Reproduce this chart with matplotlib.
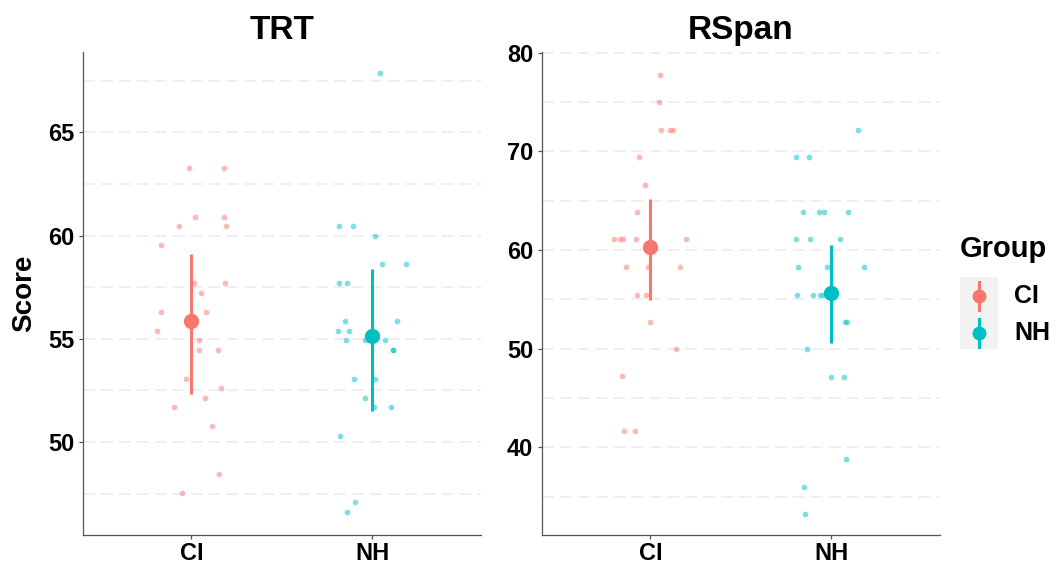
import numpy as np
import matplotlib
matplotlib.use("Agg")
import matplotlib.pyplot as plt
from matplotlib.patches import Rectangle
from matplotlib.lines import Line2D

plt.rcParams['font.family'] = ['Liberation Sans', 'DejaVu Sans']
plt.rcParams['font.weight'] = 'bold'
plt.rcParams['lines.scale_dashes'] = False

# groups / colours
groups = ["CI", "NH"]
group_colors = {"CI": "#F8766D", "NH": "#00BFC4"}

# TRT raw scores and their horizontal jitter
trt_ci = [63.25, 63.25, 60.91, 60.91, 60.47, 60.47, 59.53, 57.70, 57.70, 57.21, 56.28,
          56.28, 55.36, 54.92, 54.44, 54.44, 53.07, 52.63, 52.15, 51.71, 50.78, 48.44, 47.52]
trt_ci_jit = [-0.015, 0.181, 0.020, 0.181, -0.070, 0.194, -0.165, 0.015, 0.187, 0.055, -0.165,
              0.081, -0.190, 0.040, 0.040, 0.150, -0.029, 0.166, 0.075, -0.095, 0.115, 0.155, -0.049]
trt_nh = [67.88, 60.47, 60.47, 59.99, 58.63, 58.63, 57.70, 57.70, 55.84, 55.84, 55.36, 55.36,
          54.92, 54.92, 54.92, 54.44, 54.44, 53.07, 53.07, 52.15, 51.71, 51.71, 50.29, 47.08, 46.60]
trt_nh_jit = [0.044, -0.187, -0.106, 0.015, 0.055, 0.183, -0.187, -0.140, -0.151, 0.134, -0.192, -0.129,
              -0.146, -0.040, 0.070, 0.112, 0.116, -0.100, 0.015, -0.040, 0.008, 0.104, -0.181, -0.095, -0.140]

# RSpan raw scores
rspan_ci = [77.77, 75.01, 72.14, 72.14, 72.14, 69.41, 66.63, 63.87, 61.10, 61.10, 61.10, 61.10,
            61.10, 58.33, 58.33, 58.33, 55.46, 55.46, 52.70, 49.96, 47.19, 41.66, 41.66]
rspan_ci_jit = [0.053, 0.048, 0.059, 0.108, 0.123, -0.062, -0.027, -0.071, -0.198, -0.165, -0.151, -0.077,
                0.198, -0.137, -0.013, 0.163, -0.071, -0.022, -0.002, 0.143, -0.157, -0.148, -0.082]
rspan_nh = [72.14, 69.41, 69.41, 63.87, 63.87, 63.87, 63.87, 61.10, 61.10, 61.10, 58.33, 58.33, 58.33,
            55.49, 55.49, 55.49, 55.49, 52.70, 52.70, 49.96, 47.16, 47.16, 38.78, 36.02, 33.26]
rspan_nh_jit = [0.148, -0.198, -0.126, -0.155, -0.067, -0.040, 0.093, -0.198, -0.117, 0.049, -0.187, -0.025, 0.179,
                -0.192, -0.100, -0.062, -0.044, 0.075, 0.084, -0.137, 0.000, 0.070, 0.079, -0.151, -0.143]

# summary: mean, lower, upper
trt_mean = [55.86, 55.12]
trt_lo = [52.31, 51.50]
trt_hi = [59.12, 58.36]
rspan_mean = [60.32, 55.70]
rspan_lo = [54.99, 50.57]
rspan_hi = [65.18, 60.50]

W, H = 1059, 564
fig = plt.figure(figsize=(W / 100, H / 100), dpi=100)

def px_axes(x0, y0, x1, y1):
    return fig.add_axes([x0 / W, 1 - y1 / H, (x1 - x0) / W, (y1 - y0) / H])

def panel(ax, title, raw, jit, mean, lo, hi, ylim, major, minor):
    for i, g in enumerate(groups):
        xs = i + 1 + np.array(jit[i])
        ax.scatter(xs, raw[i], s=17, color=group_colors[g], alpha=0.5,
                   linewidths=0, zorder=2)
        ax.plot([i + 1, i + 1], [lo[i], hi[i]], color=group_colors[g], lw=2.2,
                solid_capstyle='butt', zorder=3)
        ax.plot(i + 1, mean[i], 'o', color=group_colors[g], ms=11, mew=0, zorder=4)
    ax.set_xlim(0.4, 2.6)
    ax.set_ylim(*ylim)
    ax.set_xticks([1, 2])
    ax.set_xticklabels(groups)
    ax.set_yticks(major)
    ax.set_yticks(minor, minor=True)
    ax.grid(axis='y', which='both', color='#ebebeb', lw=1.1, ls=(0, (8.6, 4.3)), zorder=0)
    ax.set_axisbelow(True)
    for s in ['top', 'right']:
        ax.spines[s].set_visible(False)
    for s in ['left', 'bottom']:
        ax.spines[s].set_color('#555555')
        ax.spines[s].set_linewidth(0.9)
    ax.tick_params(which='major', length=3, width=0.9, color='#555555', pad=3,
                   labelsize=17, labelcolor='black')
    ax.tick_params(axis='x', which='major', pad=2)
    ax.tick_params(which='minor', length=0)
    ax.set_title(title, fontsize=24, fontweight='bold', pad=9)

ax1 = px_axes(82.7, 51.7, 481, 535)
panel(ax1, "TRT", [trt_ci, trt_nh], [trt_ci_jit, trt_nh_jit], trt_mean, trt_lo, trt_hi,
      (45.5, 68.9), [50, 55, 60, 65], np.arange(47.5, 68.9, 2.5))
ax1.set_ylabel("Score", fontsize=20, fontweight='bold', labelpad=8)

ax2 = px_axes(541.7, 51.7, 940, 535)
panel(ax2, "RSpan", [rspan_ci, rspan_nh], [rspan_ci_jit, rspan_nh_jit], rspan_mean, rspan_lo, rspan_hi,
      (31.13, 80.1), [40, 50, 60, 70, 80], np.arange(35, 80.5, 5))

# legend, drawn by hand to get the ggplot look
lax = px_axes(950, 225, 1059, 360)
lax.set_xlim(950, 1059)
lax.set_ylim(360, 225)
lax.axis('off')
lax.text(960, 249, "Group", fontsize=21, fontweight='bold', va='center', ha='left')
lax.add_patch(Rectangle((960, 277), 38, 72, color='#f2f2f2', lw=0))
for i, g in enumerate(groups):
    yc = 296 + i * 37
    lax.add_line(Line2D([979, 979], [yc - 14, yc + 14], color=group_colors[g], lw=2.2))
    lax.plot(979, yc, 'o', color=group_colors[g], ms=10, mew=0)
    lax.text(1014, yc, g, fontsize=18, fontweight='bold', va='center', ha='left')

fig.savefig("out.png", dpi=100)
